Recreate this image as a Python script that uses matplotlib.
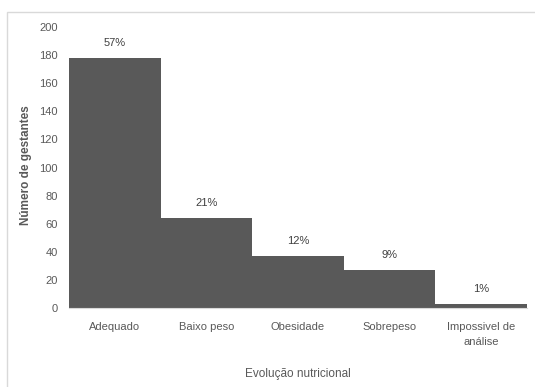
import matplotlib.pyplot as plt
from matplotlib.patches import Rectangle

# data
categories = ['Adequado', 'Baixo peso', 'Obesidade', 'Sobrepeso', 'Impossivel de\nanálise']
counts = [178, 64, 37, 27, 3]
pct_labels = ['57%', '21%', '12%', '9%', '1%']
yticks = [0, 20, 40, 60, 80, 100, 120, 140, 160, 180, 200]

bar_color = '#595959'
text_color = '#595959'

plt.rcParams['font.family'] = ['Liberation Sans', 'DejaVu Sans']

fig = plt.figure(figsize=(5.35, 3.87), dpi=100)
ax = fig.add_axes([69 / 535, 1 - 308 / 387, 458 / 535, 281 / 387])

# light frame around the chart area (right and bottom run off the image)
fig.patches.append(Rectangle((7 / 535, -0.05), 1.05, 1 - 12 / 387 + 0.05,
                             transform=fig.transFigure, fill=False,
                             edgecolor='#d9d9d9', linewidth=1))

x = range(len(categories))
ax.bar(x, counts, width=1.0, color=bar_color)

for i, (c, lab) in enumerate(zip(counts, pct_labels)):
    ax.annotate(lab, (i, c), xytext=(0, 7), textcoords='offset points',
                ha='center', va='bottom', fontsize=8, color='#404040')

ax.set_xlim(-0.5, len(categories) - 0.5)
ax.set_ylim(0, 200)
ax.set_yticks(yticks)
ax.set_xticks(list(x))
ax.set_xticklabels(categories, fontsize=8, color=text_color, linespacing=1.7)
ax.tick_params(axis='y', labelsize=8, labelcolor=text_color, length=0, pad=8)
ax.tick_params(axis='x', length=0, pad=10)

for s in ['top', 'right', 'left']:
    ax.spines[s].set_visible(False)
ax.spines['bottom'].set_color('#d9d9d9')

ax.set_ylabel('Número de gestantes', fontsize=8.5, color=text_color,
              fontweight='bold')
ax.yaxis.set_label_coords(-0.081, 0.51)
ax.set_xlabel('Evolução nutricional', fontsize=8.5, color=text_color)
ax.xaxis.set_label_coords(0.5, -0.215)

fig.savefig('out.png', dpi=100)
